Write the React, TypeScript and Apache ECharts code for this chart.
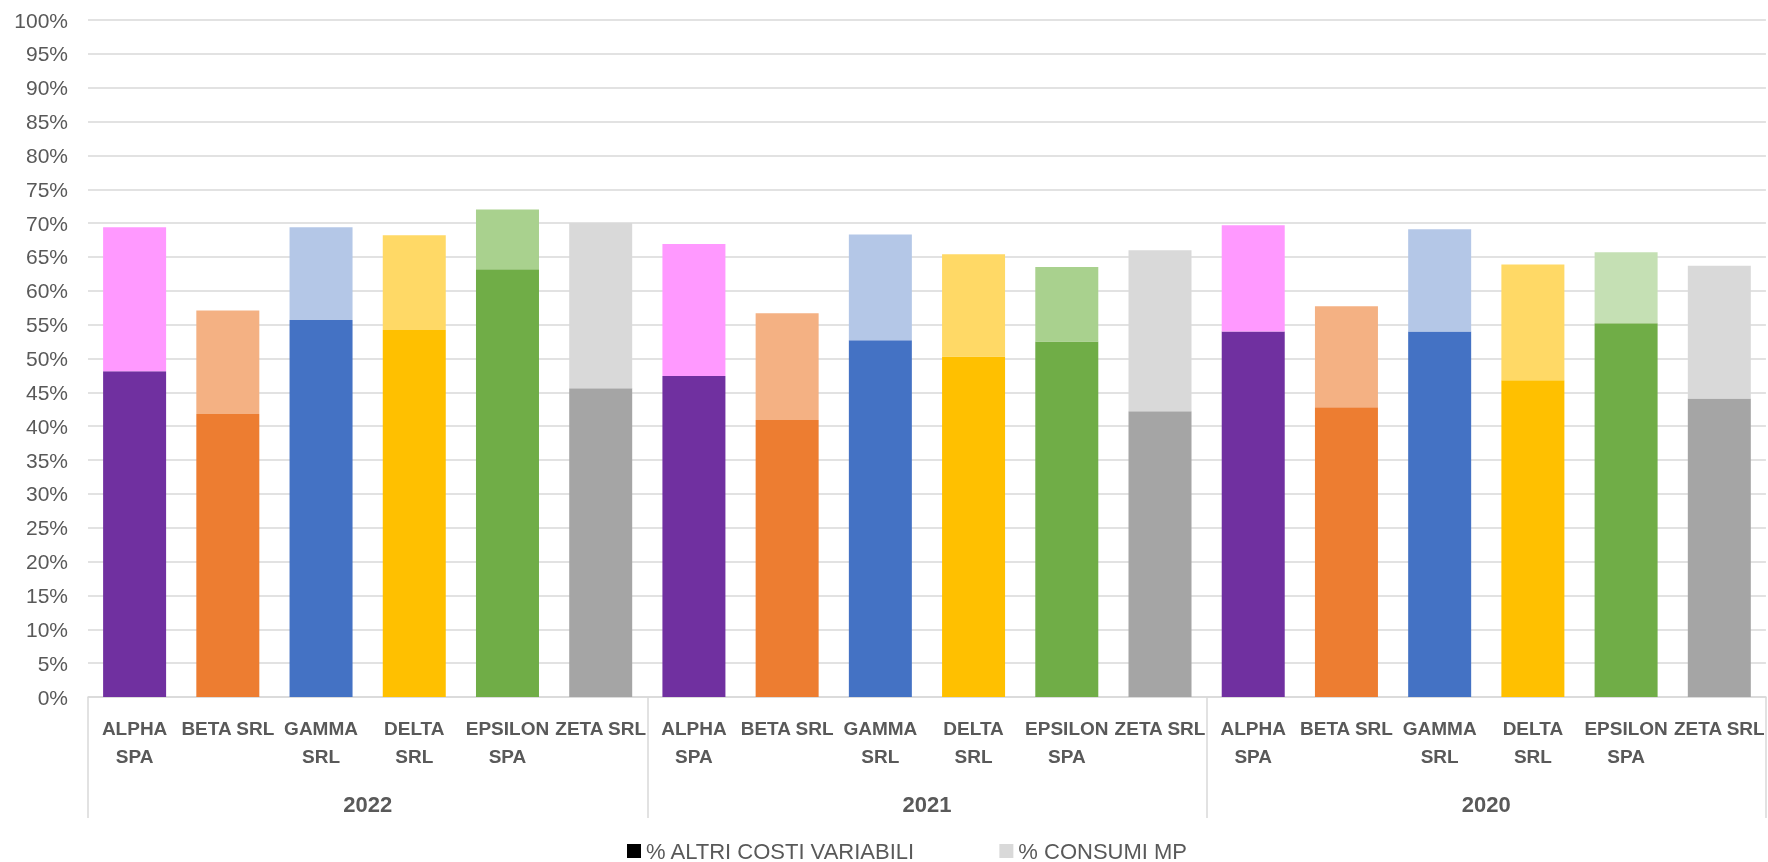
import React, { useEffect, useRef } from "react";
import * as echarts from "echarts";

const years = ["2022", "2021", "2020"];
const companies = ["ALPHA SPA", "BETA SRL", "GAMMA SRL", "DELTA SRL", "EPSILON SPA", "ZETA SRL"];
const wrapped = ["ALPHA\nSPA", "BETA SRL", "GAMMA\nSRL", "DELTA\nSRL", "EPSILON\nSPA", "ZETA SRL"];

// % ALTRI COSTI VARIABILI (bottom segment), per year, per company
const altri2022 = [48.1, 41.8, 55.7, 54.2, 63.2, 45.6];
const altri2021 = [47.4, 40.9, 52.7, 50.3, 52.5, 42.2];
const altri2020 = [54.0, 42.8, 54.0, 46.8, 55.2, 44.1];
// % CONSUMI MP (top segment)
const consumi2022 = [21.3, 15.3, 13.7, 14.0, 8.8, 24.4];
const consumi2021 = [19.5, 15.8, 15.6, 15.1, 11.0, 23.8];
const consumi2020 = [15.7, 14.9, 15.1, 17.1, 10.5, 19.6];

const yTicks = { min: 0, max: 100, interval: 5 };

const darkColors = ["#7030A0", "#ED7D31", "#4472C4", "#FFC000", "#70AD47", "#A5A5A5"];
const lightColors2022 = ["#FF99FF", "#F4B183", "#B4C7E7", "#FFD966", "#A9D18E", "#D9D9D9"];
const lightColors2021 = ["#FF99FF", "#F4B183", "#B4C7E7", "#FFD966", "#A9D18E", "#D9D9D9"];
const lightColors2020 = ["#FF99FF", "#F4B183", "#B4C7E7", "#FFD966", "#C5E0B4", "#D9D9D9"];

const FONT = "'Liberation Sans', Arial, sans-serif";
const TXT = "#595959";

export default function App() {
  const ref = useRef<HTMLDivElement>(null);
  useEffect(() => {
    if (!ref.current) return;
    const chart = echarts.init(ref.current, null, { renderer: "svg" });

    const categories: string[] = [];
    years.forEach((y) => companies.forEach((c) => categories.push(c + " " + y)));
    const labelFor = (idx: number) => wrapped[idx % 6];

    const altri = [altri2022, altri2021, altri2020];
    const consumi = [consumi2022, consumi2021, consumi2020];
    const lights = [lightColors2022, lightColors2021, lightColors2020];

    const bottomData: any[] = [];
    const topData: any[] = [];
    years.forEach((_, yi) => {
      companies.forEach((_, ci) => {
        bottomData.push({ value: altri[yi][ci], itemStyle: { color: darkColors[ci] } });
        topData.push({ value: consumi[yi][ci], itemStyle: { color: lights[yi][ci] } });
      });
    });

    chart.setOption({
      animation: false,
      textStyle: { fontFamily: FONT },
      grid: { left: 88, right: 0, top: 20, bottom: 165 },
      legend: {
        left: 622,
        top: 835,
        icon: "rect",
        itemWidth: 14,
        itemHeight: 14,
        itemGap: 84,
        textStyle: { color: TXT, fontSize: 22, fontFamily: FONT },
        data: ["% ALTRI COSTI VARIABILI", "% CONSUMI MP"],
      },
      xAxis: [
        {
          type: "category",
          data: categories,
          position: "bottom",
          axisLine: { show: true, lineStyle: { color: "#D9D9D9", width: 1.5 } },
          axisTick: {
            show: true,
            interval: (i: number) => i % 6 === 0,
            length: 121,
            lineStyle: { color: "#D9D9D9", width: 1.5 },
          },
          axisLabel: {
            interval: 0,
            margin: 17,
            color: TXT,
            fontSize: 19,
            fontWeight: "bold",
            fontFamily: FONT,
            lineHeight: 28,
            formatter: (_v: string, idx: number) => labelFor(idx),
          },
        },
        {
          type: "category",
          data: years,
          position: "bottom",
          axisLine: { show: false },
          axisTick: { show: false },
          axisLabel: {
            interval: 0,
            margin: 96,
            color: TXT,
            fontSize: 22,
            fontWeight: "bold",
            fontFamily: FONT,
          },
        },
      ],
      yAxis: {
        type: "value",
        min: yTicks.min,
        max: yTicks.max,
        interval: yTicks.interval,
        axisLine: { show: false },
        axisTick: { show: false },
        splitLine: { lineStyle: { color: "#D9D9D9", width: 1.5 } },
        axisLabel: {
          color: TXT,
          fontSize: 21,
          margin: 20,
          fontFamily: FONT,
          formatter: "{value}%",
        },
      },
      series: [
        {
          name: "% ALTRI COSTI VARIABILI",
          type: "bar",
          stack: "tot",
          xAxisIndex: 0,
          barWidth: 63,
          itemStyle: { color: "#000000" },
          data: bottomData,
        },
        {
          name: "% CONSUMI MP",
          type: "bar",
          stack: "tot",
          xAxisIndex: 0,
          barWidth: 63,
          itemStyle: { color: "#D9D9D9" },
          data: topData,
        },
      ],
    });
    return () => chart.dispose();
  }, []);
  return (
    <div
      ref={ref}
      style={{ position: "fixed", left: 0, top: 0, width: 1768, height: 862 }}
    />
  );
}
